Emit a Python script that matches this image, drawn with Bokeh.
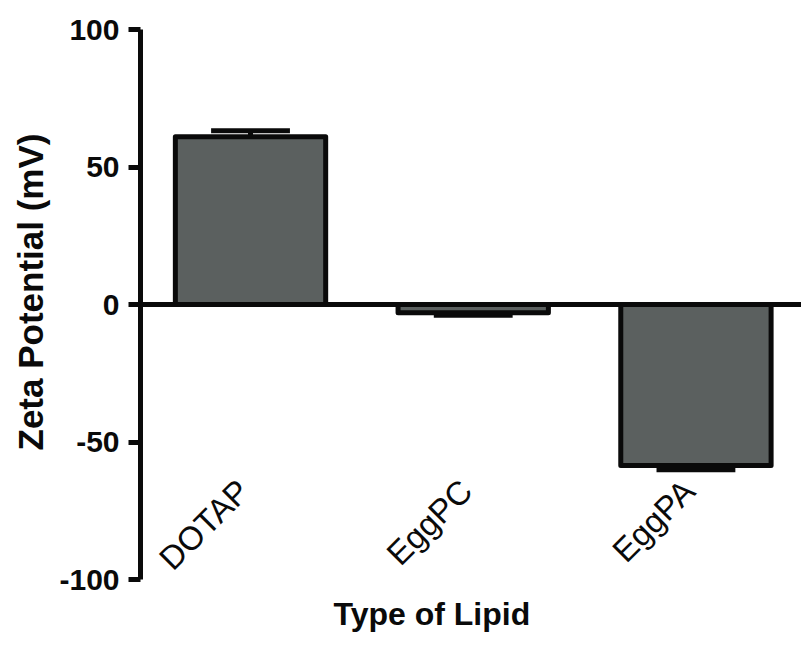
import math
from bokeh.plotting import figure
from bokeh.models import FixedTicker, Span, ColumnDataSource, Range1d, Title
from bokeh.core.properties import value
from bokeh.embed import file_html
from bokeh.resources import INLINE

categories = ["DOTAP", "EggPC", "EggPA"]
zeta_mean = [61.0, -3.0, -58.5]
zeta_sd = [2.2, 0.9, 1.6]
y_ticks = [-100, -50, 0, 50, 100]
y_tick_labels = {-100: "-100", -50: "-50", 0: "0", 50: "50", 100: "100"}

xs = list(range(len(categories)))
cap_half = 0.177
bar_w = 0.675
INK = "#0a0a0a"

ends = [m + (s if m >= 0 else -s) for m, s in zip(zeta_mean, zeta_sd)]

p = figure(width=801, height=646, output_backend="svg", toolbar_location=None,
           x_range=Range1d(-0.494, 2.474), y_range=Range1d(-100, 100),
           x_axis_location=None,
           min_border_left=140, min_border_right=0, min_border_top=29, min_border_bottom=67)
p.outline_line_color = None
p.grid.visible = False
p.background_fill_color = "white"

bars = ColumnDataSource(dict(x=xs, top=zeta_mean, end=ends,
                             x0=[x - cap_half for x in xs], x1=[x + cap_half for x in xs],
                             lab=categories))

p.segment(x0="x", x1="x", y0="top", y1="end", source=bars, line_width=5, line_color=INK)
p.segment(x0="x0", x1="x1", y0="end", y1="end", source=bars, line_width=5, line_color=INK)
p.vbar(x="x", width=bar_w, top="top", bottom=0, source=bars, fill_color="#5b605f",
       line_color=INK, line_width=5, line_join="round")

p.add_layout(Span(location=0, dimension="width", line_color=INK, line_width=5))

p.text(x="x", y=-69, text="lab", source=bars, angle=math.pi / 4, text_align="right",
       text_baseline="middle", x_offset=-7, y_offset=-9,
       text_font=value("Liberation Sans"), text_font_size="33px", text_color=INK)

ya = p.yaxis[0]
ya.ticker = FixedTicker(ticks=y_ticks)
ya.major_label_overrides = y_tick_labels
ya.minor_tick_line_color = None
ya.major_tick_in = 0
ya.major_tick_out = 12
ya.major_tick_line_width = 5
ya.major_tick_line_color = INK
ya.axis_line_width = 5
ya.axis_line_color = INK
ya.major_label_text_font = "Liberation Sans"
ya.major_label_text_font_style = "bold"
ya.major_label_text_font_size = "30px"
ya.major_label_text_color = INK
ya.major_label_standoff = 9

p.add_layout(Title(text="Type of Lipid", align="left", offset=193, standoff=29,
                   text_font="Liberation Sans", text_font_style="bold",
                   text_font_size="32px", text_color=INK), "below")
p.add_layout(Title(text="Zeta Potential (mV)", align="left", offset=129, standoff=10,
                   vertical_align="top",
                   text_font="Liberation Sans", text_font_style="bold",
                   text_font_size="35px", text_color=INK), "left")

open("out.html", "w").write(file_html(p, INLINE))
